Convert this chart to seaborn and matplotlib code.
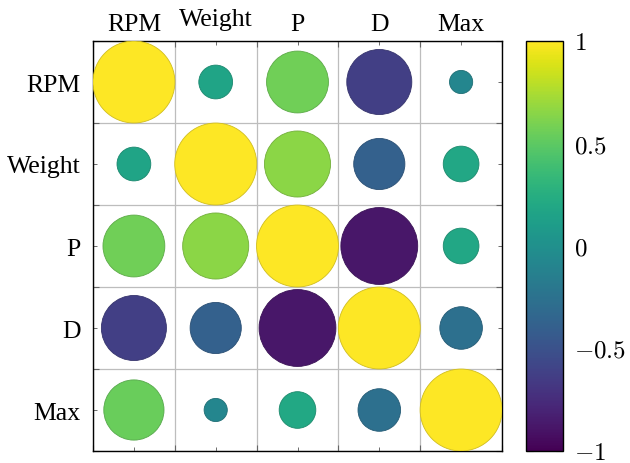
import numpy as np
import pandas as pd
import matplotlib
matplotlib.use("Agg")
import matplotlib.pyplot as plt
import matplotlib.colors as mcolors
import matplotlib.transforms as mtransforms
import seaborn as sns

# Beschriftungen und Korrelationswerte (Zeile = y-Achse, Spalte = x-Achse)
labels = ["RPM", "Weight", "P", "D", "Max"]
row_rpm = [1.00, 0.17, 0.57, -0.63, -0.08]
row_weight = [0.17, 1.00, 0.65, -0.39, 0.19]
row_p = [0.57, 0.65, 1.00, -0.88, 0.19]
row_d = [-0.63, -0.39, -0.88, 1.00, -0.27]
row_max = [0.54, -0.08, 0.20, -0.27, 1.00]
cbar_ticks = [-1, -0.5, 0, 0.5, 1]
cbar_labels = [r"$-1$", r"$-0.5$", r"$0$", r"$0.5$", r"$1$"]

rows = [row_rpm, row_weight, row_p, row_d, row_max]
records = []
for i, row in enumerate(rows):
    for j, v in enumerate(row):
        records.append({"x": j, "y": i, "corr": v, "abs": abs(v)})
df = pd.DataFrame(records)

sns.set_style("white")
plt.rcParams["font.family"] = ["Liberation Serif", "DejaVu Serif"]
plt.rcParams["mathtext.fontset"] = "cm"
plt.rcParams["text.color"] = "black"

fig = plt.figure(figsize=(6.3, 4.64), dpi=100)
ax = fig.add_axes([93 / 630, 12 / 464, 409 / 630, 410 / 464])
cax = fig.add_axes([526 / 630, 12 / 464, 37 / 630, 410 / 464])

norm = mcolors.Normalize(-1, 1)
cmap = plt.get_cmap("viridis")

# Kreisfläche proportional zum Betrag der Korrelation
sns.scatterplot(data=df, x="x", y="y", hue="corr", palette="viridis", hue_norm=(-1, 1),
                size="abs", sizes=(0, 3480), size_norm=(0, 1), legend=False,
                linewidth=0.6, ax=ax, zorder=3)

# dunklerer Rand je Kreis
coll = ax.collections[0]
fc = coll.get_facecolors()
ec = fc.copy()
ec[:, :3] = ec[:, :3] * 0.82
coll.set_edgecolors(ec)

ax.set_xlim(-0.5, 4.5)
ax.set_ylim(4.5, -0.5)
ax.set_xlabel("")
ax.set_ylabel("")
ax.set_xticks(range(5))
ax.set_yticks(range(5))
ax.set_xticklabels(labels, fontsize=18.5)
ax.set_yticklabels(labels, fontsize=18.5)
ax.xaxis.tick_top()
ax.set_xticks(np.arange(-0.5, 5, 1), minor=True)
ax.set_yticks(np.arange(-0.5, 5, 1), minor=True)
ax.grid(which="minor", color="#bdbdbd", linewidth=0.9, zorder=0)
ax.grid(which="major", visible=False)
ax.tick_params(which="major", direction="in", length=3, width=0.6, color="#555555",
               labelcolor="black", top=True, bottom=True, left=True, right=True)
ax.tick_params(axis="y", which="major", pad=9)
ax.tick_params(axis="x", which="major", pad=4)
ax.tick_params(which="minor", direction="in", length=4, width=0.8, color="#666666",
               top=True, bottom=True, left=True, right=True)
for s in ax.spines.values():
    s.set_linewidth(1.0)
    s.set_color("black")

# "Weight" oben etwas hoeher (Unterlaenge wie im Original)
for lab in ax.get_xticklabels():
    if lab.get_text() == "Weight":
        lab.set_transform(lab.get_transform() +
                          mtransforms.ScaledTranslation(0, 4 / 72, fig.dpi_scale_trans))

# Farbskala
sm = plt.cm.ScalarMappable(norm=norm, cmap=cmap)
cb = fig.colorbar(sm, cax=cax)
cb.set_ticks(cbar_ticks)
cb.set_ticklabels(cbar_labels)
cb.outline.set_linewidth(1.0)
cb.outline.set_edgecolor("black")
cax.tick_params(direction="in", length=5, width=0.8, color="#8c8c8c",
                labelcolor="black", left=True, right=True, labelsize=18, pad=8)

fig.savefig("out.png", dpi=100)
